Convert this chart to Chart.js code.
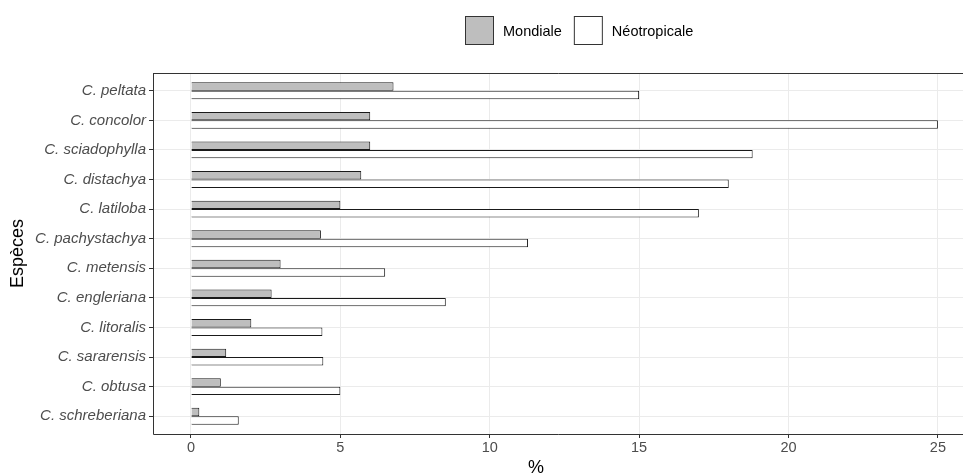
<!DOCTYPE html>
<html>
<head>
<meta charset="utf-8">
<script src="https://cdn.jsdelivr.net/npm/chart.js@4"></script>
<style>
    html, body { margin: 0; padding: 0; background: #fff; }
    #wrap { width: 963px; height: 475px; }
</style>
</head>
<body>
<div id="wrap"><canvas id="especes_chart" width="963" height="475"></canvas></div>
<script>

// species, top to bottom
const especes = [
    'C. peltata', 'C. concolor', 'C. sciadophylla', 'C. distachya',
    'C. latiloba', 'C. pachystachya', 'C. metensis', 'C. engleriana',
    'C. litoralis', 'C. sararensis', 'C. obtusa', 'C. schreberiana'
];

// % values
const mondiale     = [6.78, 6.0, 6.0, 5.7, 5.0, 4.35, 3.0, 2.7, 2.02, 1.18, 1.0, 0.28];
const neotropicale = [15.0, 25.0, 18.8, 18.0, 17.0, 11.28, 6.5, 8.53, 4.4, 4.43, 5.0, 1.6];

const x_ticks = [0, 5, 10, 15, 20, 25];

const serie_labels = ['Mondiale', 'Néotropicale'];
const serie_colors = ['#bebebe', '#ffffff'];

const font_family = '"Liberation Sans", Arial, Helvetica, sans-serif';

function as_points( values ){
    return values.map( ( v, i ) => ({ x: v, y: i }) );
}

// panel border, legend and x title, drawn the ggplot way
const gg_extras = {
    id: 'gg_extras',
    afterDraw( chart ){
        const ctx  = chart.ctx;
        const area = chart.chartArea;

        ctx.save();
        ctx.strokeStyle = '#333333';
        ctx.lineWidth   = 1;
        ctx.beginPath();
        ctx.moveTo( area.left + 0.5, area.top + 0.5 );
        ctx.lineTo( area.right, area.top + 0.5 );
        ctx.moveTo( area.left + 0.5, area.top );
        ctx.lineTo( area.left + 0.5, area.bottom + 0.5 );
        ctx.lineTo( area.right, area.bottom + 0.5 );
        ctx.stroke();

        // legend
        let lx = 465;
        const ly = 16;
        const box = 29;
        ctx.font = '14.5px ' + font_family;
        ctx.textBaseline = 'middle';
        ctx.textAlign = 'left';
        chart.data.datasets.forEach( ds => {
            ctx.fillStyle = ds.backgroundColor;
            ctx.fillRect( lx, ly, box, box );
            ctx.strokeStyle = '#333333';
            ctx.strokeRect( lx + 0.5, ly + 0.5, box - 1, box - 1 );
            ctx.fillStyle = '#000000';
            ctx.fillText( ds.label, lx + box + 9, ly + box / 2 + 1 );
            lx += box + 9 + ctx.measureText( ds.label ).width + 12;
        });

        // x axis title
        ctx.font = '18px ' + font_family;
        ctx.textAlign = 'center';
        ctx.fillStyle = '#000000';
        ctx.fillText( '%', 536, 468 );
        ctx.restore();
    }
};

const config = {
    type: 'bar',
    data: {
        datasets: [{
            label: serie_labels[0],
            data: as_points( mondiale ),
            backgroundColor: serie_colors[0],
            borderColor: '#1a1a1a',
            borderWidth: 1
        }, {
            label: serie_labels[1],
            data: as_points( neotropicale ),
            backgroundColor: serie_colors[1],
            borderColor: '#1a1a1a',
            borderWidth: 1
        }]
    },
    options: {
        indexAxis: 'y',
        responsive: false,
        animation: false,
        devicePixelRatio: 1,
        categoryPercentage: 0.57,
        barPercentage: 1.0,
        layout: {
            padding: { top: 73, left: 0, right: 0, bottom: 0 }
        },
        scales: {
            x: {
                type: 'linear',
                min: -1.27,
                max: 25.84,
                afterBuildTicks: scale => { scale.ticks = x_ticks.map( v => ({ value: v }) ); },
                afterFit: scale => { scale.height = 41; },
                grid: { color: '#ebebeb', lineWidth: 1, tickColor: '#333333', tickLength: 4 },
                border: { display: false },
                ticks: {
                    color: '#4d4d4d',
                    padding: 1,
                    maxRotation: 0,
                    font: { family: font_family, size: 14.5 }
                }
            },
            y: {
                type: 'linear',
                min: -0.6,
                max: especes.length - 0.4,
                reverse: true,
                offset: false,
                afterBuildTicks: scale => { scale.ticks = especes.map( ( e, i ) => ({ value: i }) ); },
                afterFit: scale => { scale.width = 153; },
                grid: { offset: false, color: '#ebebeb', lineWidth: 1, tickColor: '#333333', tickLength: 4 },
                border: { display: false },
                ticks: {
                    color: '#4d4d4d',
                    padding: 3,
                    callback: v => especes[v],
                    font: { family: font_family, size: 15, style: 'italic' }
                },
                title: {
                    display: true,
                    text: 'Espèces',
                    color: '#000000',
                    padding: { top: 7, bottom: 0 },
                    font: { family: font_family, size: 18 }
                }
            }
        },
        plugins: {
            legend: { display: false },
            tooltip: { enabled: false }
        }
    },
    plugins: [ gg_extras ]
};

const especes_chart = new Chart(
    document.getElementById('especes_chart'),
    config
);

</script>
</body>
</html>
